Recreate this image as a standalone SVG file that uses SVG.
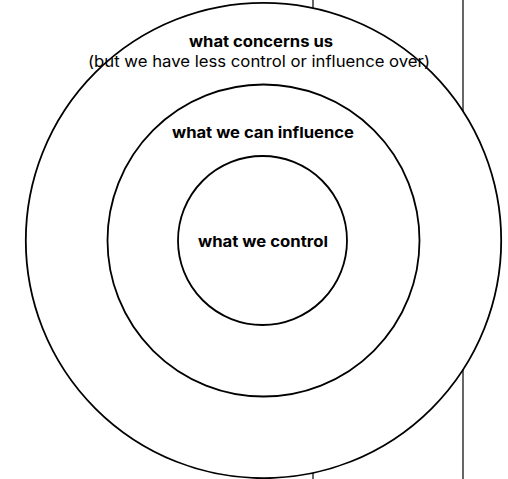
<svg xmlns="http://www.w3.org/2000/svg" width="508" height="479" viewBox="0 0 508 479">
<style>
.ring{fill:#fff;stroke:#000;stroke-width:1.8}
.conn{stroke:#000;stroke-width:1.2;fill:none}
.b{font-family:Inter,"Open Sans","DejaVu Sans",sans-serif;font-weight:700;font-size:15px;fill:#000;text-anchor:middle}
.r{font-family:Inter,"Open Sans","DejaVu Sans",sans-serif;font-weight:400;font-size:15.5px;fill:#000;text-anchor:middle}
</style>
<rect width="508" height="479" fill="#fff"/>
<g id="connectors">
<line class="conn" x1="313" y1="0" x2="313" y2="479"/>
<line class="conn" x1="463" y1="0" x2="463" y2="479"/>
</g>
<g id="concern">
<circle class="ring" cx="263.5" cy="240.5" r="237.7"/>
</g>
<g id="influence">
<circle class="ring" cx="263.5" cy="240.5" r="156"/>
</g>
<g id="control">
<circle class="ring" cx="262.5" cy="240.5" r="84.5"/>
</g>
<g id="labels">
<text class="b" x="261" y="47" textLength="144" lengthAdjust="spacingAndGlyphs">what concerns us</text>
<text class="r" x="259" y="67" textLength="342" lengthAdjust="spacingAndGlyphs">(but we have less control or influence over)</text>
<text class="b" x="263" y="138" textLength="182" lengthAdjust="spacingAndGlyphs">what we can influence</text>
<text class="b" x="263" y="247" textLength="130" lengthAdjust="spacingAndGlyphs">what we control</text>
</g>
</svg>
